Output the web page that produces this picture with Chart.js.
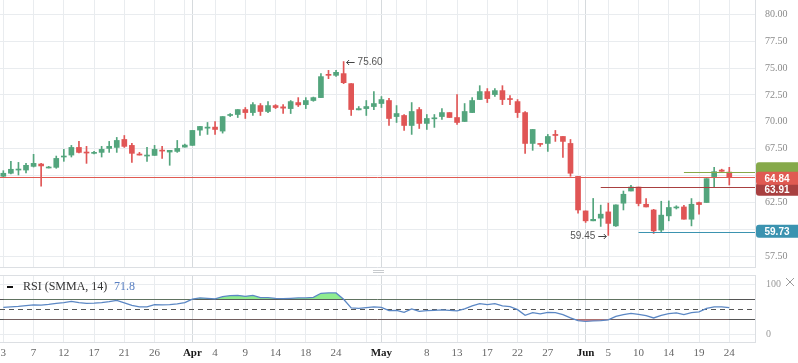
<!DOCTYPE html>
<html>
<head>
<meta charset="utf-8">
<script src="https://cdn.jsdelivr.net/npm/chart.js@4.4.1/dist/chart.umd.min.js"></script>
<style>
  html, body { margin: 0; padding: 0; background: #fff; }
  #wrap { position: relative; width: 798px; height: 363px; overflow: hidden; }
  #price { position: absolute; left: 0; top: 0; }
  #rsi { position: absolute; left: 0; top: 270px; }
</style>
</head>
<body>
<div id="wrap">
  <canvas id="price" width="798" height="270"></canvas>
  <canvas id="rsi" width="798" height="93"></canvas>
</div>
<script>
// daily candles, 3 Mar .. 24 Jun
const opens = [
  64.94, 65.22, 65.52, 65.52, 65.86, 66.08, 65.71, 65.77, 66.73, 66.91,
  67.62, 67.16, 67.07, 67.16, 67.53, 67.62, 68.36, 67.81, 67.01, 66.82,
  66.88, 67.35, 67.19, 67.25, 67.65, 67.81, 69.23, 69.41, 69.51, 69.14,
  70.59, 70.68, 71.14, 70.86, 71.51, 70.96, 71.51, 71.39, 71.23, 71.79,
  71.60, 71.98, 72.25, 74.41, 74.32, 74.48, 73.55, 71.11, 71.23, 71.42,
  71.70, 71.98, 70.49, 70.59, 69.66, 71.14, 69.85, 70.28, 70.49, 70.86,
  70.40, 70.03, 70.86, 72.07, 72.81, 72.53, 72.90, 72.16, 71.88, 70.86,
  67.99, 67.99, 67.99, 68.83, 68.64, 67.99, 64.93, 61.72, 60.80, 61.05,
  61.63, 60.33, 62.44, 63.57, 63.94, 62.34, 61.81, 59.94, 61.26, 62.00,
  62.09, 60.95, 62.50, 62.50, 64.91, 65.52, 65.33
];
const highs = [
  65.46, 66.33, 66.23, 66.14, 66.98, 66.14, 65.86, 66.82, 67.44, 67.81,
  68.18, 67.72, 67.25, 67.72, 68.18, 68.55, 68.73, 67.99, 67.16, 67.62,
  67.81, 67.72, 67.35, 68.27, 67.93, 69.20, 69.57, 69.94, 70.03, 70.49,
  70.77, 71.14, 71.33, 71.79, 71.70, 71.88, 71.60, 71.60, 71.98, 72.25,
  72.25, 72.30, 74.48, 74.78, 74.78, 75.60, 73.55, 71.42, 71.98, 72.81,
  72.35, 72.19, 71.51, 70.68, 71.79, 71.33, 70.68, 70.68, 71.23, 70.86,
  72.53, 71.70, 72.25, 73.36, 73.09, 73.09, 73.36, 72.44, 72.07, 70.96,
  69.29, 67.99, 68.83, 69.20, 68.64, 68.36, 64.93, 61.72, 62.88, 62.26,
  62.45, 62.28, 63.57, 64.10, 63.94, 62.87, 61.87, 62.62, 62.65, 62.20,
  62.25, 62.87, 62.55, 64.72, 65.77, 65.60, 65.77
];
const lows = [
  64.90, 65.15, 65.06, 65.25, 65.80, 64.01, 65.71, 65.68, 66.33, 66.73,
  67.10, 66.14, 67.01, 66.73, 67.16, 67.16, 67.62, 66.23, 66.91, 66.33,
  66.88, 66.60, 65.96, 67.16, 67.65, 67.81, 68.73, 68.83, 68.83, 68.95,
  70.49, 70.40, 70.31, 70.59, 70.59, 70.86, 71.23, 70.77, 70.77, 71.42,
  71.23, 71.91, 72.25, 74.01, 74.23, 73.55, 70.59, 71.11, 70.59, 71.14,
  71.33, 69.66, 69.94, 69.20, 68.83, 69.38, 69.29, 69.48, 70.22, 70.40,
  69.75, 70.03, 70.86, 72.07, 71.79, 72.35, 71.60, 71.60, 70.40, 67.07,
  67.35, 67.72, 67.25, 68.18, 66.70, 64.94, 61.51, 60.65, 60.80, 60.28,
  59.45, 60.28, 61.81, 63.57, 62.19, 62.09, 59.63, 59.80, 60.80, 61.90,
  60.95, 60.33, 61.42, 62.50, 63.98, 65.40, 64.13
];
const closes = [
  65.22, 65.59, 65.59, 65.96, 66.14, 65.90, 65.80, 66.60, 66.82, 67.62,
  67.16, 67.10, 67.16, 67.44, 67.72, 68.27, 67.72, 67.07, 66.91, 66.91,
  67.44, 67.28, 67.35, 67.53, 67.84, 69.20, 69.57, 69.51, 69.29, 70.49,
  70.68, 71.14, 70.86, 71.60, 70.96, 71.51, 71.33, 71.27, 71.88, 71.57,
  71.98, 72.25, 74.20, 74.32, 74.60, 73.64, 71.14, 71.23, 71.42, 71.70,
  72.07, 70.31, 70.77, 69.66, 70.96, 69.85, 70.31, 70.37, 70.86, 70.40,
  69.94, 70.96, 71.98, 72.81, 72.16, 72.90, 72.07, 72.07, 70.86, 67.99,
  69.29, 67.90, 68.64, 68.73, 68.18, 65.22, 61.81, 60.80, 60.94, 61.42,
  60.56, 62.28, 63.27, 63.94, 62.41, 62.09, 59.87, 61.33, 62.04, 62.09,
  60.95, 62.34, 62.31, 64.72, 65.37, 65.40, 64.84
];
const rsiValues = [
  54.0, 55.0, 56.0, 57.5, 59.0, 58.5, 60.0, 62.0, 63.5, 66.0,
  63.5, 62.0, 62.5, 63.5, 65.5, 68.0, 63.0, 58.0, 55.0, 55.0,
  59.5, 59.0, 59.5, 61.0, 63.5, 70.5, 72.7, 72.0, 70.7, 75.3,
  77.3, 78.0, 76.0, 78.0, 73.3, 73.3, 72.0, 71.3, 72.0, 72.7,
  72.7, 74.0, 82.0, 82.7, 82.7, 70.0, 52.7, 52.0, 53.3, 54.7,
  54.0, 47.3, 48.0, 44.0, 50.7, 46.0, 47.3, 48.0, 48.7, 48.0,
  46.7, 50.7, 56.7, 61.3, 59.3, 61.3, 56.7, 55.3, 49.3, 38.0,
  43.3, 40.7, 44.0, 43.3, 39.3, 32.7, 27.3, 26.0, 26.7, 27.3,
  28.7, 36.0, 39.3, 42.0, 40.0, 37.3, 32.7, 38.0, 41.3, 42.7,
  39.3, 43.3, 44.7, 52.0, 54.7, 54.7, 53.3
];
const rsiShown = '71.8';

// axis labels: [candle index, text]
const xTickLabels = [
  [0, '3'], [4, '7'], [8, '12'], [12, '17'], [16, '21'], [20, '26'],
  [25, 'Apr'], [28, '4'], [32, '9'], [36, '14'], [40, '18'], [44, '24'],
  [50, 'May'], [56, '8'], [60, '13'], [64, '17'], [68, '22'], [72, '27'],
  [77, 'Jun'], [80, '5'], [84, '10'], [88, '14'], [92, '19'], [96, '24']
];
const monthStarts = [25, 50, 77];
const gridEvery = 4;
const priceTicks = [57.5, 60, 62.5, 65, 67.5, 70, 72.5, 75, 77.5, 80];
const rsiTicks = [0, 100];
const rsiBands = [70, 50, 30];

// horizontal levels on the price pane
const levelValues = [65.37, 63.91, 64.84, 59.73];
const levelStarts = [90, 79, null, 84];
const levelLabels = ['', '63.91', '64.84', '59.73'];

// styles
const UP = '#53a57d', DOWN = '#e05555';
const GRID = '#e9ecef', MONTH_GRID = '#d6dadd', AXIS = '#dcdfe3';
const levelColors = ['#86a94a', '#a84040', '#e05a52', '#3b93b0'];
const levelShift = [-3, 2, 1, -1];
const SERIF = 'Liberation Serif', SANS = 'Liberation Sans';

const idx = closes.map((_, i) => i);
const gridIdx = idx.filter(i => i % gridEvery === 0).concat(monthStarts).sort((a, b) => a - b);
const labelMap = Object.fromEntries(xTickLabels);
const candleColor = c => closes[c.dataIndex] >= opens[c.dataIndex] ? UP : DOWN;
const xMin = -0.44, xMax = 99.4;
const isMonth = c => monthStarts.includes(c.tick && c.tick.value);

function noPad(s) {
  s.paddingTop = 0; s.paddingBottom = 0; s.paddingLeft = 0; s.paddingRight = 0;
}

function xScale(showLabels) {
  return {
    type: 'linear', min: xMin, max: xMax, offset: false,
    afterBuildTicks: s => { s.ticks = gridIdx.map(v => ({value: v})); },
    afterFit: s => { s.height = showLabels ? 21 : 3; noPad(s); },
    grid: {color: c => isMonth(c) ? MONTH_GRID : GRID, drawTicks: false, offset: false},
    border: {display: showLabels, color: AXIS},
    ticks: {
      display: showLabels, autoSkip: false, maxRotation: 0, padding: 5,
      callback: v => labelMap[v] || '',
      color: c => isMonth(c) ? '#1a1a1a' : '#666',
      font: c => ({family: SERIF, size: 11, weight: isMonth(c) ? 'bold' : 'normal'})
    }
  };
}

const priceOverlay = {
  id: 'priceOverlay',
  afterDatasetsDraw(chart) {
    const {ctx, chartArea: a, scales: {x, y}} = chart;
    ctx.save();
    ctx.lineWidth = 1;
    ctx.strokeStyle = AXIS;
    ctx.beginPath();
    ctx.moveTo(0, a.bottom + 0.5); ctx.lineTo(a.right, a.bottom + 0.5);
    ctx.stroke();

    levelValues.forEach((v, k) => {
      const py = Math.round(y.getPixelForValue(v)) + 0.5;
      const px = levelStarts[k] === null ? a.left : x.getPixelForValue(levelStarts[k]);
      ctx.strokeStyle = levelColors[k];
      ctx.beginPath(); ctx.moveTo(px, py); ctx.lineTo(a.right, py); ctx.stroke();
    });
    levelValues.forEach((v, k) => {
      const cy = y.getPixelForValue(v) + levelShift[k];
      ctx.fillStyle = levelColors[k];
      ctx.beginPath();
      ctx.roundRect(a.right + 1, cy - 6.5, chart.width - a.right - 1, 13, [3, 0, 0, 3]);
      ctx.fill();
      if (levelLabels[k]) {
        ctx.fillStyle = '#fff';
        ctx.font = 'bold 10px ' + SANS;
        ctx.textAlign = 'center'; ctx.textBaseline = 'middle';
        ctx.fillText(levelLabels[k], (a.right + chart.width) / 2 + 0.5, cy + 0.5);
      }
    });

    // high / low markers
    const hi = highs.indexOf(Math.max(...highs));
    const lo = lows.indexOf(Math.min(...lows));
    ctx.strokeStyle = '#444'; ctx.fillStyle = '#555';
    ctx.font = '10px ' + SANS; ctx.textBaseline = 'middle';
    let px = x.getPixelForValue(hi), py = Math.round(y.getPixelForValue(highs[hi])) + 0.5;
    ctx.beginPath();
    ctx.moveTo(px + 3, py); ctx.lineTo(px + 11, py);
    ctx.moveTo(px + 5.5, py - 2.5); ctx.lineTo(px + 3, py); ctx.lineTo(px + 5.5, py + 2.5);
    ctx.stroke();
    ctx.textAlign = 'left';
    ctx.fillText(highs[hi].toFixed(2), px + 14, py);
    px = x.getPixelForValue(lo); py = Math.round(y.getPixelForValue(lows[lo])) + 1.5;
    ctx.beginPath();
    ctx.moveTo(px - 10, py); ctx.lineTo(px - 2, py);
    ctx.moveTo(px - 4.5, py - 2.5); ctx.lineTo(px - 2, py); ctx.lineTo(px - 4.5, py + 2.5);
    ctx.stroke();
    ctx.textAlign = 'right';
    ctx.fillText(lows[lo].toFixed(2), px - 13, py);
    ctx.restore();
  }
};

new Chart(document.getElementById('price'), {
  type: 'bar',
  data: {
    datasets: [
      {
        data: idx.map(i => ({x: i, y: [opens[i], closes[i]]})),
        backgroundColor: candleColor, barThickness: 5, minBarLength: 1,
        grouped: false, borderWidth: 0
      },
      {
        data: idx.map(i => ({x: i, y: [lows[i], highs[i]]})),
        backgroundColor: candleColor, barThickness: 1,
        grouped: false, borderWidth: 0
      }
    ]
  },
  options: {
    responsive: false, animation: false,
    layout: {padding: 0},
    plugins: {legend: {display: false}, tooltip: {enabled: false}},
    scales: {
      x: xScale(false),
      y: {
        position: 'right', min: 56.51, max: 81.32,
        afterBuildTicks: s => { s.ticks = priceTicks.map(v => ({value: v})); },
        afterFit: s => { s.width = 43; noPad(s); },
        grid: {color: GRID, drawTicks: false},
        border: {color: AXIS},
        ticks: {padding: 10, color: '#8a8a8a', font: {family: SERIF, size: 10},
          callback: v => v.toFixed(2)}
      }
    }
  },
  plugins: [priceOverlay]
});

const rsiOverlay = {
  id: 'rsiOverlay',
  beforeDatasetsDraw(chart) {
    const {ctx, chartArea: a, scales: {y}} = chart;
    ctx.save();
    ctx.strokeStyle = AXIS; ctx.lineWidth = 1;
    ctx.beginPath(); ctx.moveTo(0, a.top + 0.5); ctx.lineTo(a.right, a.top + 0.5); ctx.stroke();
    ctx.strokeStyle = '#555';
    rsiBands.forEach(v => {
      const py = Math.round(y.getPixelForValue(v)) + 0.5;
      ctx.setLineDash(v === 50 ? [5, 4] : []);
      ctx.beginPath(); ctx.moveTo(a.left, py); ctx.lineTo(a.right, py); ctx.stroke();
    });
    ctx.restore();
  },
  afterDraw(chart) {
    const {ctx, chartArea: a} = chart;
    ctx.save();
    // pane drag handle
    ctx.strokeStyle = '#c8cbce'; ctx.lineWidth = 1;
    [0.5, 2.5].forEach(yy => {
      ctx.beginPath(); ctx.moveTo(373, yy); ctx.lineTo(384, yy); ctx.stroke();
    });
    // legend
    ctx.fillStyle = '#111';
    ctx.fillRect(7, a.top + 11, 6, 2);
    ctx.font = '12px ' + SERIF; ctx.textBaseline = 'middle'; ctx.textAlign = 'left';
    ctx.fillStyle = '#333';
    ctx.fillText('RSI (SMMA, 14)', 23, a.top + 12);
    ctx.fillStyle = '#5a80c2';
    ctx.fillText(rsiShown, 114, a.top + 12);
    // close cross
    ctx.strokeStyle = '#9a9a9a';
    ctx.beginPath();
    ctx.moveTo(786, a.top + 3); ctx.lineTo(794, a.top + 11);
    ctx.moveTo(794, a.top + 3); ctx.lineTo(786, a.top + 11);
    ctx.stroke();
    ctx.restore();
  }
};

const rsiPoints = idx.map(i => ({x: i, y: rsiValues[i]}));
new Chart(document.getElementById('rsi'), {
  type: 'line',
  data: {
    datasets: [
      {
        data: rsiPoints, borderColor: '#5b87c4', borderWidth: 1.3,
        pointRadius: 0, tension: 0,
        fill: {target: {value: 70}, above: '#8fec8f', below: 'rgba(0,0,0,0)'}
      },
      {
        data: rsiPoints, borderWidth: 0, borderColor: 'rgba(0,0,0,0)',
        pointRadius: 0, tension: 0,
        fill: {target: {value: 30}, above: 'rgba(0,0,0,0)', below: '#f08585'}
      }
    ]
  },
  options: {
    responsive: false, animation: false,
    layout: {padding: {top: 5}},
    plugins: {legend: {display: false}, tooltip: {enabled: false}},
    scales: {
      x: xScale(true),
      y: {
        position: 'right', min: -15.4, max: 118.6,
        afterBuildTicks: s => { s.ticks = rsiTicks.map(v => ({value: v})); },
        afterFit: s => { s.width = 43; noPad(s); },
        grid: {color: GRID, drawTicks: false},
        border: {color: AXIS},
        ticks: {padding: 11, color: '#999', font: {family: SERIF, size: 10}}
      }
    }
  },
  plugins: [rsiOverlay]
});
</script>
</body>
</html>
